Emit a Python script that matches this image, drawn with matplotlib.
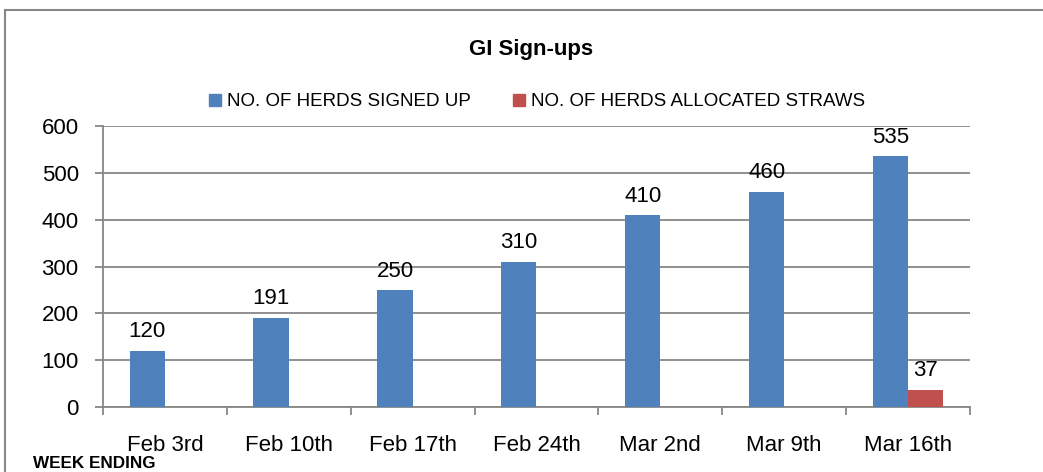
import matplotlib.pyplot as plt
from matplotlib.lines import Line2D
from matplotlib.patches import Patch
import numpy as np

weeks = ['Feb 3rd', 'Feb 10th', 'Feb 17th', 'Feb 24th', 'Mar 2nd', 'Mar 9th', 'Mar 16th']
signed_up = [120, 191, 250, 310, 410, 460, 535]
allocated = [0, 0, 0, 0, 0, 0, 37]
series_names = ['NO. OF HERDS SIGNED UP', 'NO. OF HERDS ALLOCATED STRAWS']

blue = '#4F81BD'
red = '#C0504D'
gray = '#878787'

plt.rcParams['font.family'] = ['Liberation Sans', 'DejaVu Sans']

fig = plt.figure(figsize=(10.43, 4.72), dpi=100)
ax = fig.add_axes([103 / 1043, 1 - 407 / 472, 867 / 1043, 281 / 472])

x = np.arange(len(weeks))
w = 0.285
ax.bar(x - w / 2, signed_up, w, color=blue, zorder=3)
ax.bar(x + w / 2, allocated, w, color=red, zorder=3)

# value labels
for xi, v in zip(x, signed_up):
    ax.annotate(str(v), (xi - w / 2, v), xytext=(0, 6), textcoords='offset points',
                ha='center', va='bottom', fontsize=16)
for xi, v in zip(x, allocated):
    if v > 0:
        ax.annotate(str(v), (xi + w / 2, v), xytext=(0, 6), textcoords='offset points',
                    ha='center', va='bottom', fontsize=16)

ax.set_xlim(-0.5, len(weeks) - 0.5)
ax.set_ylim(0, 600)
ax.set_yticks(range(0, 601, 100))
ax.yaxis.grid(True, color=gray, linewidth=1.3, zorder=0)
ax.set_axisbelow(True)

ax.set_xticks(x)
ax.set_xticklabels(weeks, fontsize=16)
ax.set_xticks(np.arange(-0.5, len(weeks)), minor=True)
ax.tick_params(axis='x', which='major', length=0, pad=20)
ax.tick_params(axis='x', which='minor', length=6, width=1.3, color=gray)
ax.tick_params(axis='y', length=6, width=1.3, color=gray, pad=11.5, labelsize=16)

for side in ['top', 'right']:
    ax.spines[side].set_visible(False)
for side in ['left', 'bottom']:
    ax.spines[side].set_color(gray)
    ax.spines[side].set_linewidth(1.3)

fig.text(531 / 1043, 1 - 50 / 472, 'GI Sign-ups', ha='center', va='center',
         fontsize=16, fontweight='bold')
fig.text(33 / 1043, 1 - 463 / 472, 'WEEK ENDING', ha='left', va='center',
         fontsize=12.3, fontweight='bold')

handles = [Patch(color=blue), Patch(color=red)]
fig.legend(handles, series_names, loc='center', bbox_to_anchor=(537 / 1043, 1 - 102 / 472),
           ncol=2, frameon=False, fontsize=13.5, handlelength=0.65, handleheight=0.65,
           handletextpad=0.35, columnspacing=2.2)

# outer chart border
fig.add_artist(Line2D([5 / 1043, 1], [1 - 10 / 472, 1 - 10 / 472], color=gray, linewidth=1.5,
                      transform=fig.transFigure))
fig.add_artist(Line2D([5 / 1043, 5 / 1043], [0, 1 - 10 / 472], color=gray, linewidth=1.5,
                      transform=fig.transFigure))

fig.savefig('out.png', dpi=100)
